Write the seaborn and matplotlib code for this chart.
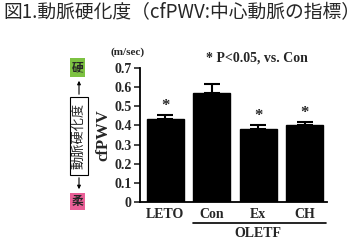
import matplotlib
matplotlib.use("Agg")
import matplotlib.pyplot as plt
import numpy as np
import seaborn as sns
from matplotlib.patches import Rectangle

groups = ["LETO", "Con", "Ex", "CH"]
means = [0.432, 0.568, 0.380, 0.400]
sems = [0.020, 0.050, 0.020, 0.016]
significant = [True, False, True, True]
yticks = [0, 0.1, 0.2, 0.3, 0.4, 0.5, 0.6, 0.7]
ytick_labels = ["0", "0.1", "0.2", "0.3", "0.4", "0.5", "0.6", "0.7"]

sns.set_style("ticks")
plt.rcParams["font.family"] = ["Liberation Serif", "DejaVu Serif"]
jp_font = ["Noto Sans CJK JP", "DejaVu Sans"]

fig = plt.figure(figsize=(3.6, 2.44), dpi=100)
ax = fig.add_axes([140 / 360, 1 - 202 / 244, (326.7 - 140) / 360, (202 - 68) / 244])

sns.barplot(x=groups, y=means, color="black", edgecolor="black",
            width=0.8, errorbar=None, ax=ax, saturation=1)
x = np.arange(len(groups))
ax.errorbar(x, means, yerr=[np.zeros(len(sems)), sems], fmt="none",
            ecolor="black", elinewidth=1.5, capsize=6, capthick=1.5)
for xi, m, s, sig in zip(x, means, sems, significant):
    if sig:
        ax.annotate("*", (xi, m + s), xytext=(0, 1), textcoords="offset points",
                    ha="center", va="bottom", fontsize=12, fontweight="bold")

ax.set_ylim(0, 0.7)
ax.set_xlim(-0.54, 3.47)
ax.set_yticks(yticks)
ax.set_yticklabels(ytick_labels, fontsize=10, fontweight="bold")
ax.tick_params(axis="y", length=4, width=1.2, pad=2)
ax.tick_params(axis="x", length=0, pad=4)
for lbl in ax.get_xticklabels():
    lbl.set_fontsize(10)
    lbl.set_fontweight("bold")
ax.set_xlabel("")
ax.set_ylabel("cfPWV", fontsize=12, fontweight="bold", labelpad=2)
sns.despine(ax=ax)
for sp in ["left", "bottom"]:
    ax.spines[sp].set_linewidth(1.3)
    ax.spines[sp].set_color("black")

# OLETF bracket
trans = ax.get_xaxis_transform()
ax.plot([0.6, 3.45], [-0.157, -0.157], color="black", lw=1.2,
        transform=trans, clip_on=False)
ax.text(2.0, -0.235, "OLETF", transform=trans, ha="center", va="center",
        fontsize=10, fontweight="bold")

ax.text(-0.064, 1.12, "(m/sec)", transform=ax.transAxes, ha="center",
        va="center", fontsize=8, fontweight="bold")
ax.text(0.627, 1.075, "* P<0.05, vs. Con", transform=ax.transAxes,
        ha="center", va="center", fontsize=10, fontweight="bold")

# title and stiffness scale on the left, in pixel space
ov = fig.add_axes([0, 0, 1, 1], zorder=-1)
ov.set_xlim(0, 360)
ov.set_ylim(244, 0)
ov.axis("off")
ov.text(3, 13, "図1.動脈硬化度（cfPWV:中心動脈の指標）", ha="left",
        va="center", fontsize=13.5, family=jp_font)

ov.annotate("", xy=(79, 78), xytext=(79, 97),
            arrowprops=dict(arrowstyle="-|>", color="black", lw=0.8,
                            mutation_scale=5))
ov.annotate("", xy=(79, 192), xytext=(79, 175),
            arrowprops=dict(arrowstyle="-|>", color="black", lw=0.8,
                            mutation_scale=5))
ov.add_patch(Rectangle((70, 58), 15, 19, facecolor="#7dc242",
                       edgecolor="none"))
ov.text(77.5, 67.5, "硬", ha="center", va="center", fontsize=8.5,
        fontweight="bold", family=jp_font)
ov.add_patch(Rectangle((70, 193), 15, 17, facecolor="#ea5f97",
                       edgecolor="none"))
ov.text(77.5, 201.5, "柔", ha="center", va="center", fontsize=8.5,
        fontweight="bold", family=jp_font)
ov.add_patch(Rectangle((70, 97), 18, 78, facecolor="white",
                       edgecolor="black", lw=0.8))
ov.text(79, 136, "動脈硬化度", ha="center", va="center", fontsize=9.5,
        rotation=90, family=jp_font)

fig.savefig("out.png", dpi=100)
